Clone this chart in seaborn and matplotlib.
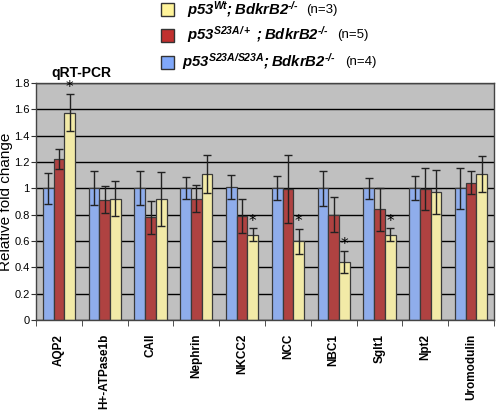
import numpy as np
import pandas as pd
import matplotlib
matplotlib.use("Agg")
import matplotlib.pyplot as plt
from matplotlib.patches import Rectangle
from matplotlib.ticker import FixedLocator, FuncFormatter
import seaborn as sns

genes = ["AQP2", "H+-ATPase1b", "CAII", "Nephrin", "NKCC2", "NCC", "NBC1", "Sglt1", "Npt2", "Uromodulin"]
groups = ["S23A/S23A", "S23A/+", "Wt"]
blue_vals = [1.00, 1.00, 1.00, 1.00, 1.01, 1.00, 1.00, 1.00, 1.00, 1.00]
blue_err = [0.117, 0.13, 0.128, 0.083, 0.09, 0.09, 0.134, 0.08, 0.092, 0.155]
red_vals = [1.225, 0.915, 0.78, 0.922, 0.79, 0.995, 0.80, 0.84, 0.995, 1.043]
red_err = [0.075, 0.10, 0.125, 0.103, 0.128, 0.26, 0.133, 0.165, 0.163, 0.085]
yellow_vals = [1.575, 0.922, 0.916, 1.109, 0.648, 0.597, 0.44, 0.648, 0.975, 1.107]
yellow_err = [0.138, 0.133, 0.205, 0.147, 0.05, 0.097, 0.082, 0.05, 0.168, 0.135]
significant = [True, False, False, False, True, True, True, True, False, False]
colors = ["#80a8fa", "#c1302f", "#fff49a"]
yticks = [0, 0.2, 0.4, 0.6, 0.8, 1.0, 1.2, 1.4, 1.6, 1.8]
legend_labels = [r"$p53^{Wt}{;}BdkrB2^{\text{-/-}}$",
                 r"$p53^{S23A/+}\ {;}BdkrB2^{\text{-/-}}$",
                 r"$p53^{S23A/S23A}{;}BdkrB2^{\text{-/-}}$"]
legend_n = ["(n=3)", "(n=5)", "(n=4)"]

plt.rcParams["mathtext.fontset"] = "custom"
plt.rcParams["mathtext.rm"] = "Liberation Sans:bold:italic"
plt.rcParams["mathtext.it"] = "Liberation Sans:bold:italic"
plt.rcParams["mathtext.bf"] = "Liberation Sans:bold:italic"

df = pd.DataFrame({
    "gene": genes * 3,
    "group": [groups[0]] * 10 + [groups[1]] * 10 + [groups[2]] * 10,
    "value": blue_vals + red_vals + yellow_vals,
})
errs = [blue_err, red_err, yellow_err]
vals = [blue_vals, red_vals, yellow_vals]

fig = plt.figure(figsize=(4.96, 4.12), dpi=100)
ax = fig.add_axes([36 / 496, 1 - 320 / 412, 458 / 496, 237 / 412])
ax.set_facecolor("#c0c0c0")

sns.barplot(data=df, x="gene", y="value", hue="group", hue_order=groups,
            order=genes, palette=colors, width=0.7, errorbar=None,
            edgecolor="#3a3a3a", linewidth=0.9, ax=ax, legend=False, zorder=2)

bars = ax.patches
for gi in range(3):
    for ci in range(len(genes)):
        p = bars[gi * len(genes) + ci]
        xc = p.get_x() + p.get_width() / 2
        ax.errorbar(xc, vals[gi][ci], yerr=errs[gi][ci], fmt="none",
                    ecolor="#222222", elinewidth=1.0, capsize=2.6, capthick=1.0, zorder=3)
        if gi == 2 and significant[ci]:
            ax.text(xc, vals[gi][ci] + errs[gi][ci] - 0.005, "*", ha="center", va="bottom",
                    fontsize=11, color="black", zorder=4)

ax.set_ylim(0, 1.8)
ax.set_xlim(-0.5, len(genes) - 0.5)
ax.set_yticks(yticks)
ax.yaxis.set_major_formatter(FuncFormatter(lambda v, pos: f"{v:g}"))
ax.yaxis.grid(True, color="black", linewidth=1.0)
ax.set_axisbelow(True)
ax.tick_params(axis="y", labelsize=8, length=3.5, direction="out", color="#333333", pad=1)
ax.tick_params(axis="x", which="major", length=0, labelsize=8.5, pad=10)
ax.xaxis.set_minor_locator(FixedLocator(np.arange(-0.5, len(genes), 1.0)))
ax.tick_params(axis="x", which="minor", length=4, color="#333333")
ax.set_xticks(range(len(genes)))
ax.set_xticklabels(genes, rotation=90, fontweight="bold", fontfamily="Liberation Sans")
for lbl in ax.get_yticklabels():
    lbl.set_fontfamily("Liberation Sans")
for s in ax.spines.values():
    s.set_color("#444444")
    s.set_linewidth(1.0)
ax.set_xlabel("")
ax.set_ylabel("Relative fold change", fontsize=11, fontfamily="Liberation Sans")
ax.yaxis.set_label_coords(-23 / 458, 0.5)

fig.text(51 / 496, 1 - 73 / 412, "qRT-PCR", fontsize=10, fontweight="bold",
         fontfamily="Liberation Sans", va="center", ha="left")

# legend (manual), label fontsizes fitted to reference widths
renderer = fig.canvas.get_renderer()
leg_geom = [(colors[2], 9.5, 187, 299, 306),
            (colors[1], 35, 187, 328, 337),
            (colors[0], 62, 182, 336, 345)]
for (col, yc, xt, xend, xn), lab, ntxt in zip(leg_geom, legend_labels, legend_n):
    fig.add_artist(Rectangle((161 / 496, 1 - (yc + 6.5) / 412), 13 / 496, 13 / 412,
                             transform=fig.transFigure, facecolor=col,
                             edgecolor="#333333", linewidth=1.0))
    t = fig.text(xt / 496, 1 - yc / 412, lab, fontsize=11, va="center", ha="left")
    w = t.get_window_extent(renderer).width
    t.set_fontsize(11 * (xend - xt) / w)
    fig.text(xn / 496, 1 - yc / 412, ntxt, fontsize=9.5, va="center", ha="left",
             fontfamily="Liberation Sans")

fig.savefig("out.png", dpi=100)
